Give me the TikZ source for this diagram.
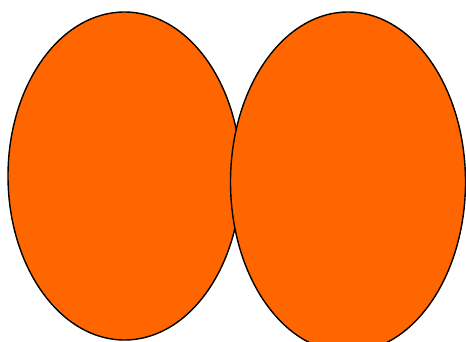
\documentclass[tikz,border=0pt]{standalone}
\usetikzlibrary{shapes.geometric}
\definecolor{orangefill}{HTML}{FF6600}
\begin{document}
\begin{tikzpicture}[x=1pt,y=-1pt,
  blob/.style={ellipse,draw=black,line width=1.4pt,fill=orangefill,inner sep=0pt}]
\useasboundingbox (0,0) rectangle (466,341);
\clip (0,0) rectangle (466,341);
\node[blob,minimum width=233pt,minimum height=328pt] (left) at (124.5,176) {};
\node[blob,minimum width=235pt,minimum height=340pt] (right) at (348,182) {};
\end{tikzpicture}
\end{document}
